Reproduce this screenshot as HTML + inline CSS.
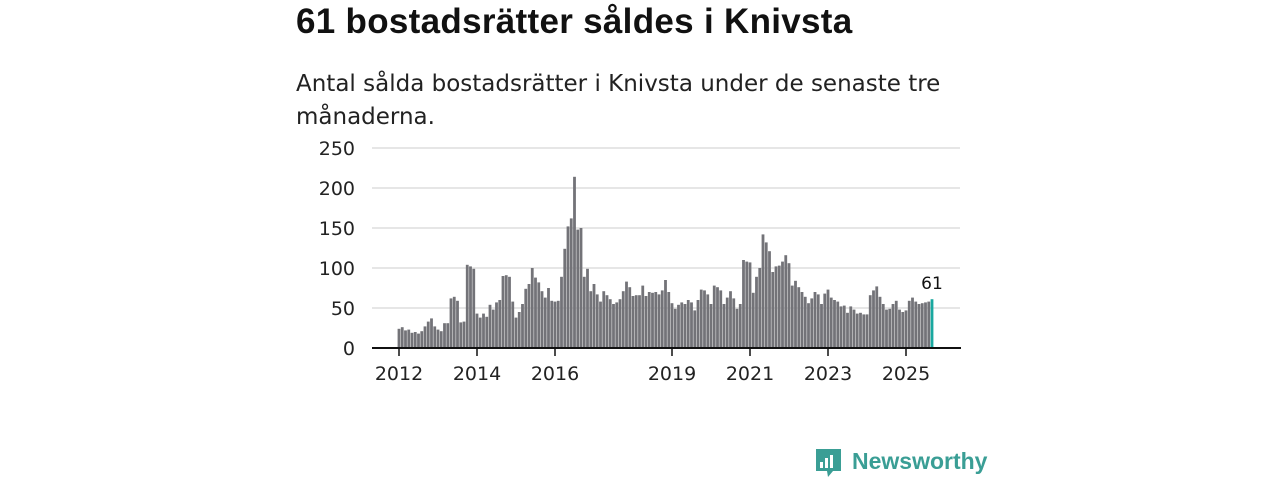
<!DOCTYPE html>
<html><head><meta charset="utf-8"><style>
body{margin:0;width:1280px;height:480px;background:#fff;font-family:"Liberation Sans","DejaVu Sans",sans-serif;overflow:hidden;position:relative}
#title{position:absolute;left:296px;top:2px;font-size:35px;font-weight:bold;color:#111;margin:0;font-family:"Liberation Sans",sans-serif;letter-spacing:0.3px}
#sub{position:absolute;left:296px;top:68px;width:680px;font-size:23px;line-height:33px;color:#222;font-family:"DejaVu Sans","Liberation Sans",sans-serif}
svg{position:absolute;left:0;top:0}
text{font-family:"DejaVu Sans","Liberation Sans",sans-serif}
</style></head><body>
<h1 id="title">61 bostadsrätter såldes i Knivsta</h1>
<div id="sub">Antal sålda bostadsrätter i Knivsta under de senaste tre månaderna.</div>
<svg id="chart" width="1280" height="480"></svg>
<script>
const values=[24,26,22,23,19,20,18,21,27,33,37,27,
23,21,31,31,62,64,59,32,33,104,102,99,
43,38,43,39,54,48,57,60,90,91,89,58,
38,45,55,74,80,100,88,82,71,63,75,59,
58,59,89,124,152,162,214,148,150,89,99,71,
80,67,58,71,66,61,55,57,61,71,83,76,
65,66,66,78,65,70,69,70,67,72,85,70,
56,49,54,57,55,60,57,47,60,73,72,67,
55,78,76,72,55,63,71,62,49,55,110,108,
107,69,89,100,142,132,121,95,102,103,108,116,
106,78,84,76,70,64,56,62,70,67,55,68,
73,63,60,58,52,53,44,52,48,43,44,42,
42,66,72,77,64,55,48,49,55,59,48,45,
47,59,63,58,55,56,57,58,61];
const yTicks=[0,50,100,150,200,250];
const xTickLabels=["2012","2014","2016","2019","2021","2023","2025"];
const xTickYears=[2012,2014,2016,2019,2021,2023,2025];
const svg=document.getElementById('chart');
const NS='http://www.w3.org/2000/svg';
const y=v=>348-v*0.8;
const x=i=>399+i*3.25;
const yearX=yr=>399+(yr-2012)*39;
function mk(t,a){const e=document.createElementNS(NS,t);for(const k in a)e.setAttribute(k,a[k]);svg.appendChild(e);return e;}
yTicks.forEach(v=>{
 if(v>0){const g=mk('line',{x1:372,x2:960,y1:y(v),y2:y(v),stroke:'#ddd','stroke-width':1.5});
 
 }
 const t=mk('text',{x:355,y:y(v)+7,'text-anchor':'end','font-size':19,fill:'#222'});t.textContent=v;
 
 
});
values.forEach((v,i)=>{
 const last=i===values.length-1;
 const r=mk('rect',{x:x(i)-1.4,y:y(v),width:2.8,height:v*0.8,fill:last?'#19a8a0':'#737378'});
 
 
});
const li=values.length-1;
const lbl=mk('text',{x:x(li),y:y(values[li])-10,'text-anchor':'middle','font-size':17,fill:'#111'});lbl.textContent=values[li];


const ax=mk('line',{x1:372,x2:961,y1:348,y2:348,stroke:'#111','stroke-width':2});


xTickYears.forEach((yr,k)=>{
 const tk=mk('line',{x1:yearX(yr),x2:yearX(yr),y1:348,y2:356,stroke:'#111','stroke-width':1.5});
 
 
 const t=mk('text',{x:yearX(yr),y:380,'text-anchor':'middle','font-size':19,fill:'#222'});t.textContent=xTickLabels[k];
 
 
});
// logo
const g=mk('g',{});


const ic=document.createElementNS(NS,'path');
ic.setAttribute('d','M816 449 h25 v22 h-8 l-5 6 l-1 -6 h-11 z');ic.setAttribute('fill','#3a9e95');g.appendChild(ic);
[[820,462,3,6],[825,458,3,10],[830,455,3,13]].forEach(b=>{const r=document.createElementNS(NS,'rect');r.setAttribute('x',b[0]);r.setAttribute('y',b[1]);r.setAttribute('width',b[2]);r.setAttribute('height',b[3]);r.setAttribute('fill','#fff');g.appendChild(r);});
const lt=document.createElementNS(NS,'text');lt.setAttribute('x',852);lt.setAttribute('y',469);lt.setAttribute('font-size',23);lt.setAttribute('font-weight','bold');lt.setAttribute('fill','#3a9e95');lt.setAttribute('style','font-family:"Liberation Sans",sans-serif');lt.textContent='Newsworthy';g.appendChild(lt);
</script>
</body></html>
